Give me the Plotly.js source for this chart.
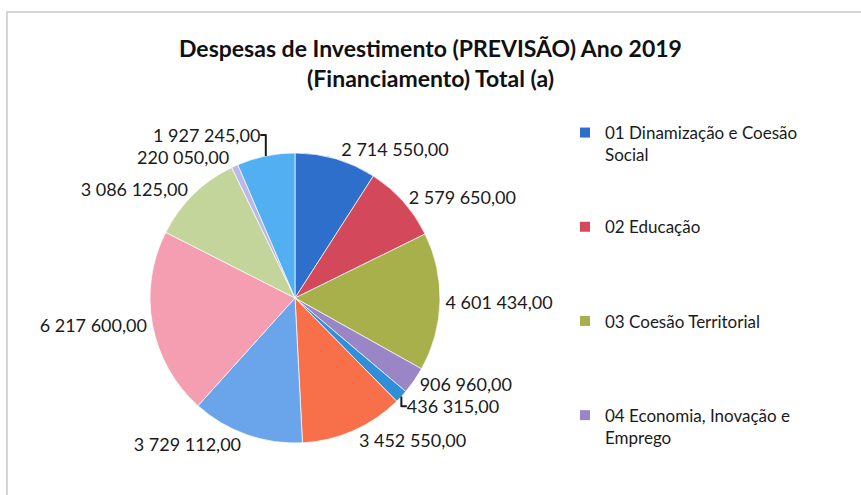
<!DOCTYPE html>
<html>
<head>
<meta charset="utf-8">
<script src="https://cdn.plot.ly/plotly-3.0.1.min.js"></script>
<style>html,body{margin:0;padding:0;background:#fff}#chart{width:861px;height:495px}</style>
</head>
<body>
<div id="chart"></div>
<script>
const categories = [
  "01 Dinamização e Coesão Social",
  "02 Educação",
  "03 Coesão Territorial",
  "04 Economia, Inovação e Emprego",
  "05", "06", "07", "08", "09", "10", "11"
];
const values = [2714550, 2579650, 4601434, 906960, 436315, 3452550, 3729112, 6217600, 3086125, 220050, 1927245];
const colors = ["#2E6FCB", "#D4485C", "#A8B04C", "#9A86C6", "#2F8FD8", "#F87049", "#6AA5EC", "#F59DB1", "#C3D59B", "#BCB8E9", "#52AFF2"];
const legendLabels = [
  "01 Dinamização e Coesão<br>Social",
  "02 Educação<br>&nbsp;",
  "03 Coesão Territorial<br>&nbsp;",
  "04 Economia, Inovação e<br>Emprego"
];
const titleText = "Despesas de Investimento (PREVISÃO) Ano 2019<br>(Financiamento) Total (a)";

const FONT = "Lato, 'Open Sans', sans-serif";

const traces = [{
  type: "pie",
  labels: categories,
  values: values,
  sort: false,
  direction: "clockwise",
  rotation: 0,
  marker: {colors: colors, line: {color: "rgba(255,255,255,0.7)", width: 1}},
  textposition: "outside",
  texttemplate: "%{value:,.2f}",
  textfont: {family: FONT, size: 18, color: "#1a1a1a"},
  domain: {x: [150/861, 440/861], y: [1 - 443/495, 1 - 153/495]},
  showlegend: false,
  automargin: false,
  hoverinfo: "label+value"
}];

legendLabels.forEach((lab, i) => {
  traces.push({
    type: "scatter",
    x: [null], y: [null],
    mode: "markers",
    name: lab,
    legendgroup: "g" + i,
    marker: {symbol: "square", size: 10, color: colors[i]},
    showlegend: true,
    xaxis: "x", yaxis: "y"
  });
});

const layout = {
  width: 861, height: 495,
  margin: {l: 0, r: 0, t: 0, b: 0},
  paper_bgcolor: "#ffffff",
  plot_bgcolor: "#ffffff",
  separators: ", ",
  font: {family: FONT, color: "#1a1a1a"},
  title: {
    text: titleText,
    font: {family: FONT, size: 23, color: "#111", weight: "bold"},
    x: 0.5, xanchor: "center",
    y: 1 - 57/495, yanchor: "top"
  },
  xaxis: {visible: false},
  yaxis: {visible: false},
  showlegend: true,
  legend: {
    x: 565/861, xanchor: "left",
    y: 1 - 115/495, yanchor: "top",
    font: {family: FONT, size: 17, color: "#1a1a1a"},
    tracegroupgap: 47,
    valign: "top",
    itemwidth: 30,
    bgcolor: "rgba(0,0,0,0)"
  },
  shapes: [{
    type: "rect", xref: "paper", yref: "paper",
    x0: 7/861, x1: 1.02, y0: -0.02, y1: 1 - 12/495,
    line: {color: "#c8c8c8", width: 1.5}
  }]
};

Plotly.newPlot("chart", traces, layout, {displayModeBar: false, staticPlot: true});
</script>
</body>
</html>
